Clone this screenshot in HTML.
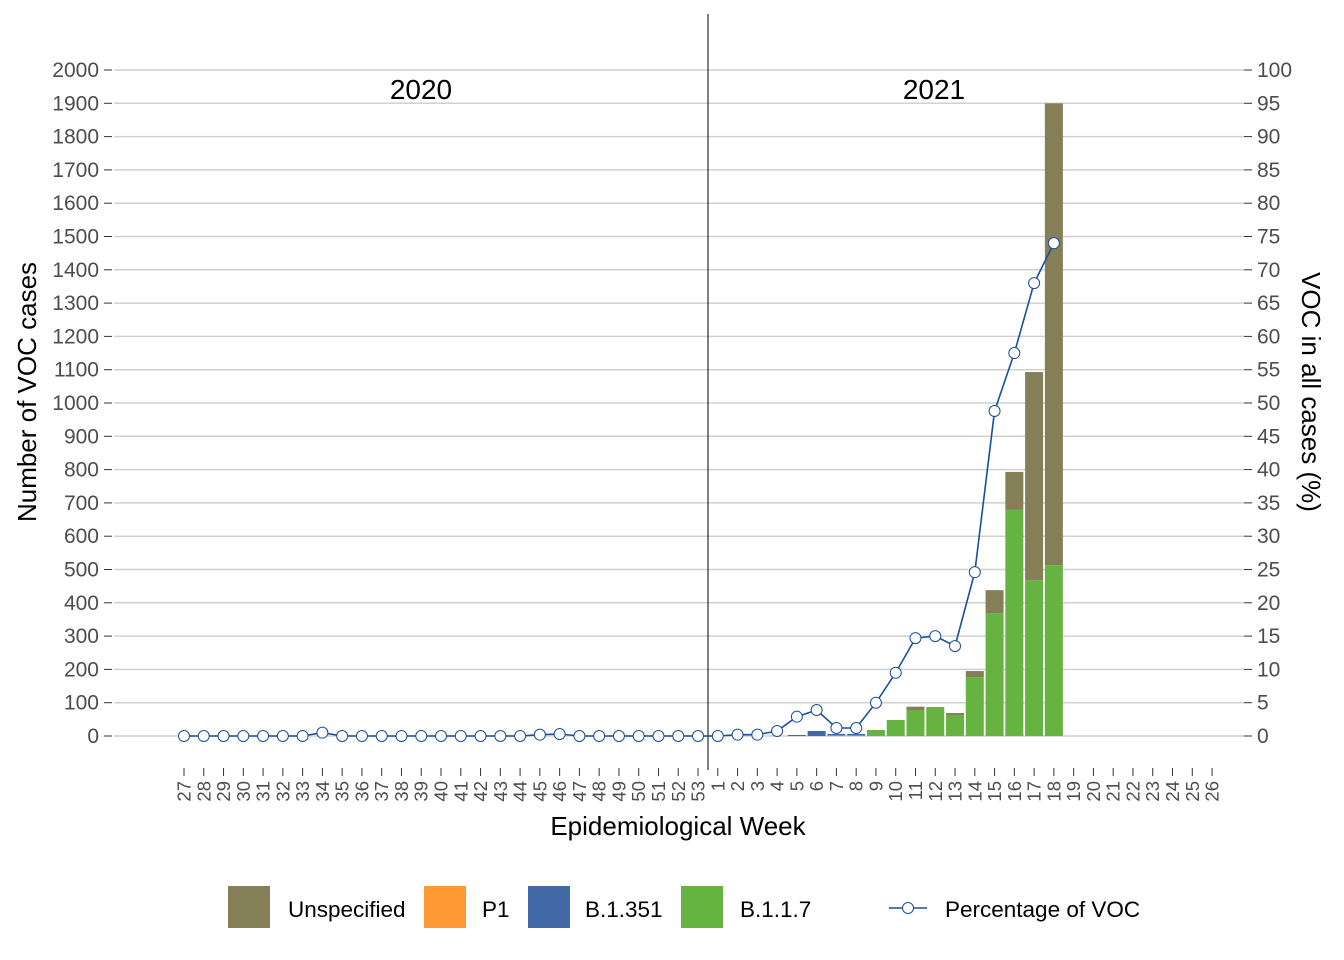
<!DOCTYPE html>
<html><head><meta charset="utf-8"><style>
body{margin:0;background:#fff}
svg{display:block;font-family:"Liberation Sans",sans-serif}
</style></head><body>
<svg id="s" width="1344" height="960" xmlns="http://www.w3.org/2000/svg"></svg>
<script>
const s=document.getElementById('s');
let h='';
const y0=736, yk=666/2000, pk=666/100;
const X=i=>184+i*19.77;
for(let v=0;v<=2000;v+=100){const y=y0-v*yk;
h+=`<line x1="114" x2="1244" y1="${y}" y2="${y}" stroke="#d0d0d0" stroke-width="1.5"/>`;
h+=`<line x1="104" x2="112" y1="${y}" y2="${y}" stroke="#333" stroke-width="1"/>`;
h+=`<text x="99" y="${y+7}" font-size="21" fill="#4d4d4d" text-anchor="end">${v}</text>`;}
for(let v=0;v<=100;v+=5){const y=y0-v*pk;
h+=`<line x1="1244" x2="1252" y1="${y}" y2="${y}" stroke="#333"/>`;
h+=`<text x="1257" y="${y+7}" font-size="21" fill="#4d4d4d">${v}</text>`;}
const weeks=[];for(let w=27;w<=53;w++)weeks.push(w);for(let w=1;w<=26;w++)weeks.push(w);
weeks.forEach((w,i)=>{const x=X(i);
h+=`<line x1="${x}" x2="${x}" y1="768" y2="776" stroke="#333"/>`;
h+=`<text transform="translate(${x+6.5},781) rotate(-90)" font-size="18.5" fill="#4d4d4d" text-anchor="end">${w}</text>`;});
const idx=w=>26+w;
const bars={5:[0,0,3,0],6:[0,0,15,0],7:[0,0,3,3],8:[0,0,3,3],9:[0,0,0,18],10:[0,0,0,48],11:[10,0,0,78],12:[2,0,0,85],13:[6,0,0,63],14:[18,0,0,177],15:[69,0,0,369],16:[114,0,0,679],17:[625,0,0,468],18:[1387,0,0,513]};
for(const w in bars){const [u,p,b,g]=bars[w];const x=X(idx(+w))-9;let y=y0;
[[g,'#66b342'],[b,'#4169a6'],[p,'#ff9933'],[u,'#857f57']].forEach(([v,c])=>{if(v>0){const hh=v*yk;y-=hh;h+=`<rect x="${x}" y="${y}" width="18" height="${hh}" fill="${c}"/>`;}});}
h+=`<line x1="708" x2="708" y1="14" y2="770" stroke="#000" stroke-width="1"/>`;
h+=`<text x="421" y="99" font-size="28" text-anchor="middle">2020</text><text x="934" y="99" font-size="28" text-anchor="middle">2021</text>`;
const pct=new Array(weeks.length).fill(0);
pct[7]=0.5;pct[18]=0.2;pct[19]=0.3;pct[28]=0.2;
const pv={3:0.2,4:0.75,5:2.9,6:3.9,7:1.2,8:1.2,9:5,10:9.5,11:14.7,12:15,13:13.5,14:24.6,15:48.8,16:57.5,17:68,18:74};
for(const w in pv)pct[idx(+w)]=pv[w];
const n=idx(18)+1;let pts=[];for(let i=0;i<n;i++)pts.push(`${X(i)},${y0-pct[i]*pk}`);
h+=`<polyline points="${pts.join(' ')}" fill="none" stroke="#1a4f9a" stroke-width="1.6"/>`;
for(let i=0;i<n;i++)h+=`<circle cx="${X(i)}" cy="${y0-pct[i]*pk}" r="5.5" fill="#fff" stroke="#1a4f9a" stroke-width="1"/>`;
h+=`<text x="678" y="835" font-size="26" text-anchor="middle">Epidemiological Week</text>`;
h+=`<text transform="translate(36,392) rotate(-90)" font-size="26" text-anchor="middle">Number of VOC cases</text>`;
h+=`<text transform="translate(1302,392) rotate(90)" font-size="26" text-anchor="middle">VOC in all cases (%)</text>`;
[[228,'#857f57','Unspecified',288],[424,'#ff9933','P1',482],[528,'#4169a6','B.1.351',585],[681,'#66b342','B.1.1.7',740]].forEach(([x,c,t,tx])=>{
h+=`<rect x="${x}" y="886" width="42" height="42" fill="${c}"/><text x="${tx}" y="917" font-size="22.5">${t}</text>`;});
h+=`<line x1="889" x2="927" y1="908" y2="908" stroke="#1a4f9a" stroke-width="1.6"/><circle cx="908" cy="908" r="5.5" fill="#fff" stroke="#1a4f9a"/>`;
h+=`<text x="945" y="917" font-size="22.5">Percentage of VOC</text>`;
s.innerHTML=h;
</script>
</body></html>
